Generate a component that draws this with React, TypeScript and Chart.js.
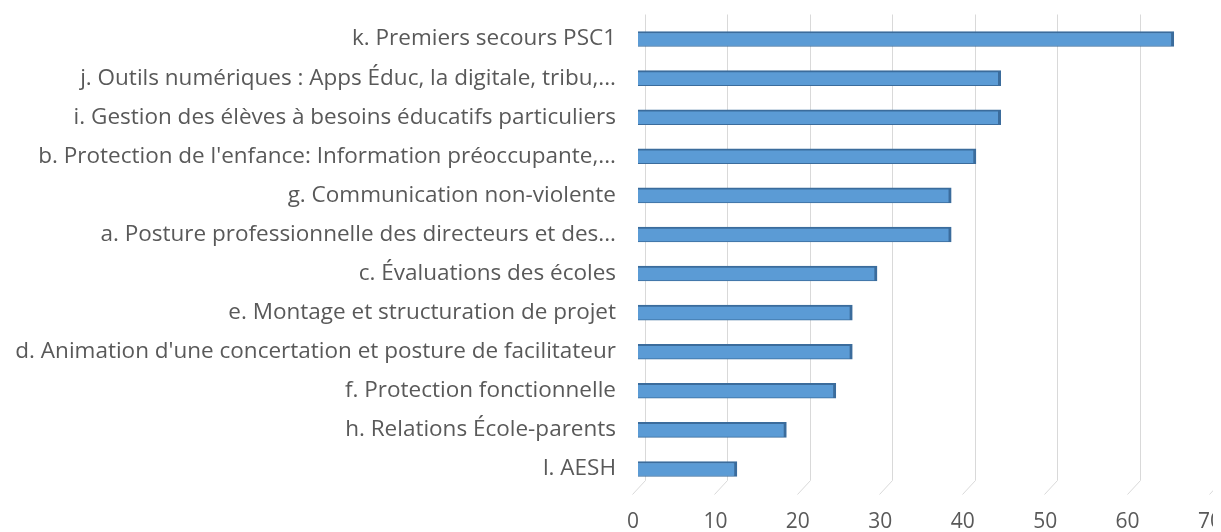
import React, { useEffect, useRef } from "react";
import { Chart, registerables } from "chart.js";

Chart.register(...registerables);

const categories = [
  "k. Premiers secours PSC1",
  "j. Outils numériques : Apps Éduc, la digitale, tribu,...",
  "i. Gestion des élèves à besoins éducatifs particuliers",
  "b. Protection de l'enfance: Information préoccupante,...",
  "g. Communication non-violente",
  "a. Posture professionnelle des directeurs et des...",
  "c. Évaluations des écoles",
  "e. Montage et structuration de projet",
  "d. Animation d'une concertation et posture de facilitateur",
  "f. Protection fonctionnelle",
  "h. Relations École-parents",
  "l. AESH",
];

const values = [65, 44, 44, 41, 38, 38, 29, 26, 26, 24, 18, 12];

const xTicks = [0, 10, 20, 30, 40, 50, 60, 70];

const gridPlugin = {
  id: "grid3d",
  beforeDatasetsDraw(chart: any) {
    const { ctx, chartArea, scales } = chart;
    const x = scales.x;
    ctx.save();
    ctx.strokeStyle = "#d9d9d9";
    ctx.lineWidth = 1;
    for (const t of xTicks) {
      const px = Math.round(x.getPixelForValue(t)) + 0.5;
      ctx.beginPath();
      ctx.moveTo(px + 7, chartArea.top - 5);
      ctx.lineTo(px + 7, chartArea.bottom - 8);
      ctx.lineTo(px - 6, chartArea.bottom + 6);
      ctx.stroke();
    }
    ctx.restore();
  },
};

export default function App() {
  const ref = useRef<HTMLCanvasElement>(null);
  useEffect(() => {
    if (!ref.current) return;
    const chart = new Chart(ref.current, {
      type: "bar",
      data: {
        labels: categories,
        datasets: [
          {
            data: values,
            backgroundColor: "#5b9bd5",
            borderColor: "#3b6c9c",
            borderWidth: { top: 2, right: 3, bottom: 1, left: 0 } as any,
            barThickness: 15,
          },
        ],
      },
      options: {
        indexAxis: "y",
        animation: false,
        responsive: false,
        maintainAspectRatio: false,
        layout: { padding: { top: 11.5, right: 26, bottom: 0, left: 0 } },
        plugins: {
          legend: { display: false },
          tooltip: { enabled: false },
        },
        scales: {
          x: {
            min: 0,
            max: 70,
            afterBuildTicks: (s: any) => {
              s.ticks = xTicks.map((v) => ({ value: v }));
            },
            afterFit: (s: any) => {
              s.height = 43.5;
            },
            border: { display: false },
            grid: { display: false, drawTicks: false },
            ticks: {
              padding: 21,
              labelOffset: -5,
              color: "#595959",
              font: { family: "Open Sans", size: 21 },
            },
          },
          y: {
            afterFit: (s: any) => {
              s.width = 630;
              s.paddingTop = 0;
              s.paddingBottom = 0;
            },
            border: { display: false },
            grid: { display: false, drawTicks: false },
            ticks: {
              padding: 22,
              color: "#595959",
              font: { family: "Open Sans", size: 22.5 },
              autoSkip: false,
            },
          },
        },
      },
      plugins: [gridPlugin],
    });
    return () => chart.destroy();
  }, []);
  return (
    <div style={{ width: 1213, height: 524, overflow: "hidden" }}>
      <canvas ref={ref} width={1240} height={524} style={{ display: "block" }} />
    </div>
  );
}
